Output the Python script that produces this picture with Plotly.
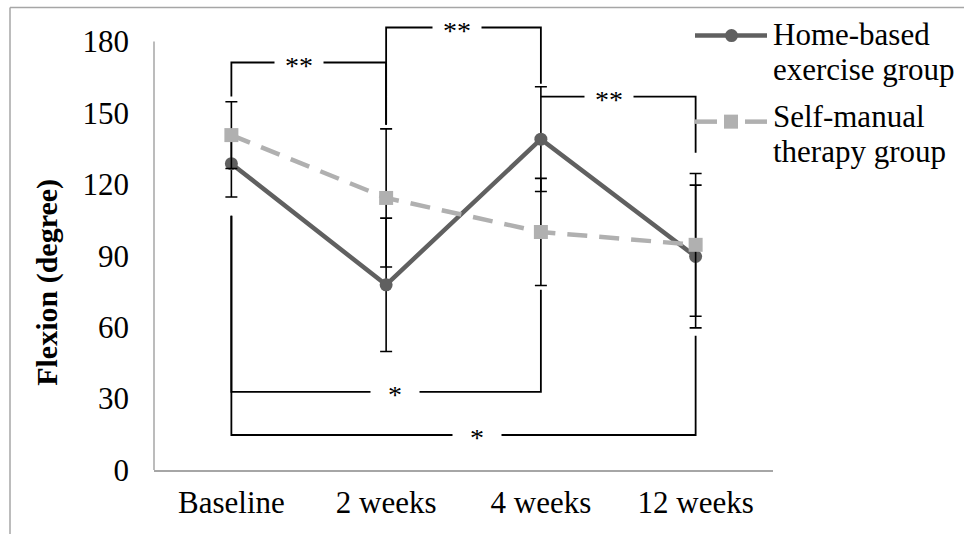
import plotly.graph_objects as go

# ---------------- data ----------------
categories = ["Baseline", "2 weeks", "4 weeks", "12 weeks"]
home_mean = [128.7, 77.8, 139.0, 89.7]
home_sd = [14.0, 28.0, 22.0, 30.0]
self_mean = [140.7, 114.3, 100.0, 94.6]
self_sd = [14.0, 29.0, 22.5, 30.0]
y_ticks = [0, 30, 60, 90, 120, 150, 180]

# significance brackets: (from idx, to idx, level, label, leg end at "from", leg end at "to", label position fraction)
brackets = [
    (0, 1, 171.2, "**", 156.9, 145.1, 0.44),
    (1, 2, 185.9, "**", 145.1, 162.3, 0.46),
    (2, 3, 156.9, "**", 156.9, 133.3, 0.44),
    (0, 2, 32.8, "*", 106.8, 75.7, 0.53),
    (0, 3, 14.7, "*", 106.8, 56.4, 0.53),
]

# ---------------- layout constants ----------------
W, H = 964, 534
L, R, B = 154, 191, 64
Y_MAX = 192
PX_PER_UNIT = 428 / 180
T = (H - B) - Y_MAX * PX_PER_UNIT
PLOT_W = W - L - R
PLOT_H = H - T - B

FONT = "Liberation Serif, Times New Roman, serif"
HOME_COLOR = "#606060"
SELF_COLOR = "#b0b0b0"
AXIS_COLOR = "#a6a6a6"


def px_x(px):
    return (px - L) / PLOT_W


def px_y(py):
    return (H - B - py) / PLOT_H


x_idx = list(range(len(categories)))

fig = go.Figure()

# brackets
bx, by = [], []
for a, b, lvl, lab, la, lb, f in brackets:
    bx += [a, a, b, b, None]
    by += [la, lvl, lvl, lb, None]
fig.add_trace(go.Scatter(x=bx, y=by, mode="lines", line=dict(color="black", width=1.8),
                         hoverinfo="skip", showlegend=False))

fig.add_trace(go.Scatter(
    x=x_idx, y=home_mean, mode="lines+markers", name="Home-based exercise group",
    line=dict(color=HOME_COLOR, width=4.5),
    marker=dict(symbol="circle", size=13, color=HOME_COLOR),
    error_y=dict(type="data", array=home_sd, visible=True, color="black", thickness=1.6, width=6),
    showlegend=False))

fig.add_trace(go.Scatter(
    x=x_idx, y=self_mean, mode="lines+markers", name="Self-manual therapy group",
    line=dict(color=SELF_COLOR, width=4.5, dash="20px,12px"),
    marker=dict(symbol="square", size=14, color=SELF_COLOR),
    error_y=dict(type="data", array=self_sd, visible=True, color="black", thickness=1.6, width=6),
    showlegend=False))

annotations = []
for a, b, lvl, lab, la, lb, f in brackets:
    gap = 46
    annotations.append(dict(
        x=a + (b - a) * f, y=lvl, xref="x", yref="y", text=lab, showarrow=False,
        font=dict(family=FONT, size=28, color="black"), bgcolor="white",
        width=gap, height=14, yshift=-2, valign="middle"))

# y-axis title
annotations.append(dict(x=px_x(47), y=px_y(283), xref="paper", yref="paper",
                        xanchor="center", yanchor="middle",
                        text="<b>Flexion (degree)</b>", textangle=-90, showarrow=False,
                        font=dict(family=FONT, size=30, color="black")))

shapes = []
# y axis line (0..180)
shapes.append(dict(type="line", xref="paper", yref="y", x0=0, x1=0, y0=0, y1=180,
                   line=dict(color=AXIS_COLOR, width=1.5)))
# outer frame
shapes.append(dict(type="line", xref="paper", yref="paper", x0=px_x(10), x1=px_x(10),
                   y0=px_y(8), y1=px_y(H + 5), line=dict(color=AXIS_COLOR, width=1.5)))
shapes.append(dict(type="line", xref="paper", yref="paper", x0=px_x(10), x1=px_x(W + 5),
                   y0=px_y(8), y1=px_y(8), line=dict(color=AXIS_COLOR, width=1.5)))

# custom legend
legend_items = [
    ("Home-based", "exercise group", 36, HOME_COLOR, "circle", None, 35, 70),
    ("Self-manual", "therapy group", 122, SELF_COLOR, "square", "dash", 117, 152),
]
for l1, l2, ly, col, sym, dash, t1, t2 in legend_items:
    if dash:
        for xa, xb in [(695, 717), (745, 767)]:
            shapes.append(dict(type="line", xref="paper", yref="paper", x0=px_x(xa), x1=px_x(xb),
                               y0=px_y(ly), y1=px_y(ly), line=dict(color=col, width=4.5)))
        shapes.append(dict(type="rect", xref="paper", yref="paper", x0=px_x(724), x1=px_x(738),
                           y0=px_y(ly - 7), y1=px_y(ly + 7), fillcolor=col, line=dict(width=0)))
    else:
        shapes.append(dict(type="line", xref="paper", yref="paper", x0=px_x(695), x1=px_x(767),
                           y0=px_y(ly), y1=px_y(ly), line=dict(color=col, width=4.5)))
        shapes.append(dict(type="circle", xref="paper", yref="paper", x0=px_x(725), x1=px_x(738),
                           y0=px_y(ly - 6.5), y1=px_y(ly + 6.5), fillcolor=col, line=dict(width=0)))
    for txt, ty in [(l1, t1), (l2, t2)]:
        annotations.append(dict(x=px_x(771), y=px_y(ty), xref="paper", yref="paper", text=txt,
                                showarrow=False, xanchor="left", yanchor="middle",
                                font=dict(family=FONT, size=31, color="black")))

fig.update_layout(
    width=W, height=H,
    margin=dict(l=L, r=R, t=T, b=B, pad=0),
    paper_bgcolor="white", plot_bgcolor="white",
    font=dict(family=FONT, size=31, color="black"),
    xaxis=dict(range=[-0.5, 3.5], tickvals=x_idx, ticktext=categories, showgrid=False,
               zeroline=False, showline=True, linecolor=AXIS_COLOR, linewidth=1.5, ticks="",
               ticklabelstandoff=4, tickfont=dict(family=FONT, size=31)),
    yaxis=dict(range=[0, Y_MAX], tickvals=y_ticks, showgrid=False, zeroline=False,
               showline=False, ticks="", ticklabelstandoff=24,
               tickfont=dict(family=FONT, size=31)),
    shapes=shapes, annotations=annotations,
)

fig.write_html("out.html")
